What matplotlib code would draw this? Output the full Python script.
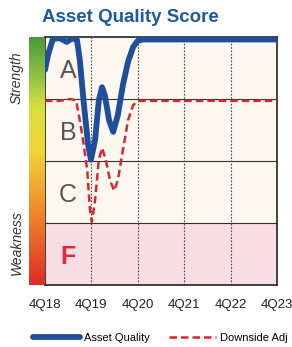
import numpy as np
import matplotlib
matplotlib.use("Agg")
import matplotlib.pyplot as plt
from matplotlib.colors import LinearSegmentedColormap
from matplotlib.lines import Line2D

plt.rcParams['font.family'] = ['Liberation Sans', 'DejaVu Sans']

title = "Asset Quality Score"
tick_labels = ["4Q18", "4Q19", "4Q20", "4Q21", "4Q22", "4Q23"]
grades = ["F", "C", "B", "A"]
legend_labels = ["Asset Quality", "Downside Adj"]

# years since 4Q18
aq_x = [0, 0.065, 0.17, 0.32, 0.47, 0.58, 0.69, 0.75, 0.84, 0.93, 0.99, 1.08, 1.16,
        1.23, 1.29, 1.38, 1.47, 1.57, 1.68, 1.79, 1.90, 2.0, 2.11, 3.0, 4.0, 5.0]
aq_y = [3.47, 3.71, 3.97, 3.98, 3.92, 3.98, 3.95, 3.63, 2.90, 2.26, 2.02, 2.34, 2.98,
        3.19, 3.06, 2.66, 2.47, 2.74, 3.23, 3.60, 3.84, 3.94, 3.96, 3.96, 3.96, 3.96]

da_x = [0, 0.32, 0.54, 0.67, 0.73, 0.82, 0.91, 0.97, 1.01, 1.08, 1.16, 1.23, 1.31,
        1.40, 1.49, 1.57, 1.68, 1.79, 1.90, 2.0, 3.0, 4.0, 5.0]
da_y = [2.97, 2.97, 3.0, 2.98, 2.74, 2.34, 1.85, 1.21, 1.02, 1.37, 2.02, 2.21, 2.02,
        1.69, 1.52, 1.69, 2.18, 2.66, 2.90, 2.97, 2.97, 2.97, 2.97]

W, H = 292, 347
fig = plt.figure(figsize=(W / 100, H / 100), dpi=100)
fig.patch.set_facecolor("white")

L, R, T, B = 45, 277, 37, 285
ax = fig.add_axes([L / W, 1 - B / H, (R - L) / W, (B - T) / H])
ax.set_xlim(0, 5)
ax.set_ylim(0, 4)

blue = "#1f4f9c"
red = "#d42a2f"

ax.axhspan(1, 4, color="#fcf8f0", zorder=0)
ax.axhspan(0, 1, color="#f8dee4", zorder=0)
for yv in [1, 2, 3]:
    ax.axhline(yv, color="#333333", lw=0.8, zorder=1)
for xv in [1, 2, 3, 4]:
    ax.axvline(xv, color="#444444", lw=0.8, ls=(0, (1.5, 1.5)), zorder=1)

for i, g in enumerate(grades):
    ax.text(0.5, i + 0.45, g, ha="center", va="center", fontsize=18,
            color=("#e8283a" if g == "F" else "#555555"),
            fontweight=("bold" if g == "F" else "normal"), zorder=2)

ax.plot(da_x, da_y, color=red, lw=1.8, ls=(0, (3, 1.6)), zorder=3)
ax.plot(aq_x, aq_y, color=blue, lw=4.2, zorder=4, solid_joinstyle="round",
        solid_capstyle="round")

ax.set_xticks(range(6))
ax.set_xticklabels(tick_labels, fontsize=9.5, color="#222222")
ax.tick_params(axis="x", length=0, pad=10)
ax.set_yticks([])
for s in ax.spines.values():
    s.set_linewidth(1.2)
    s.set_color("#222222")

# gradient bar
cax = fig.add_axes([29 / W, 1 - B / H, (45 - 29) / W, (B - T) / H])
cmap = LinearSegmentedColormap.from_list(
    "g", [(0, "#e02a26"), (0.3, "#f08a2c"), (0.55, "#f0d838"), (0.72, "#d8e040"),
          (0.85, "#8cc044"), (1.0, "#4a9a3c")])
grad = np.linspace(0, 1, 256).reshape(-1, 1)
cax.imshow(grad, aspect="auto", cmap=cmap, origin="lower", extent=[0, 1, 0, 1])
cax.set_xticks([])
cax.set_yticks([])
for s in cax.spines.values():
    s.set_visible(False)

fig.text(17 / W, 1 - 78 / H, "Strength", rotation=90, ha="center", va="center",
         fontsize=10, style="italic", color="#333333")
fig.text(17 / W, 1 - 243 / H, "Weakness", rotation=90, ha="center", va="center",
         fontsize=10, style="italic", color="#333333")

fig.text(130 / W, 1 - 18 / H, title, ha="center", va="center", fontsize=13.5,
         fontweight="bold", color="#1f5a9e")

handles = [Line2D([0], [0], color=blue, lw=4.2, solid_capstyle="round"),
           Line2D([0], [0], color=red, lw=1.8, ls=(0, (3, 1.6)))]
fig.legend(handles, legend_labels, ncol=2, frameon=False,
           loc="center left", bbox_to_anchor=(33 / W, 1 - 338 / H),
           prop={"size": 8}, handlelength=4.2, handletextpad=0.35,
           columnspacing=1.8, borderaxespad=0, borderpad=0)

fig.savefig("out.png", dpi=100)
